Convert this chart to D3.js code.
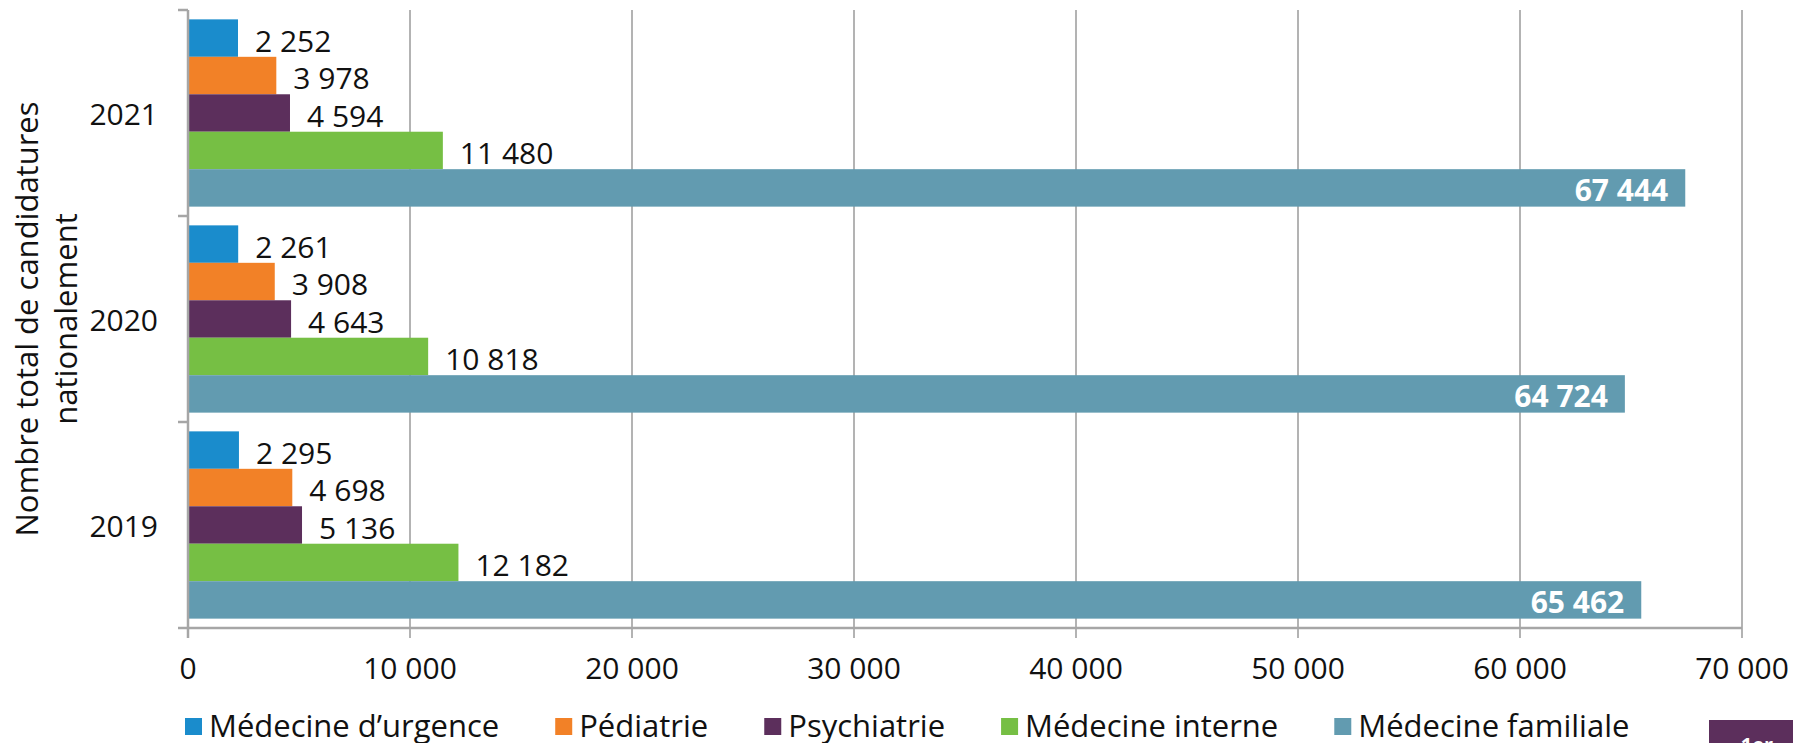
<!DOCTYPE html>
<html>
<head>
<meta charset="utf-8">
<script src="https://cdn.jsdelivr.net/npm/d3@7"></script>
<style>
  body { margin: 0; background: #fff; }
  text { font-family: "Open Sans", sans-serif; fill: #111; }
</style>
</head>
<body>
<div id="chart"></div>
<script>
// data
let years = ["2021", "2020", "2019"];
let seriesNames = ["Médecine d’urgence", "Pédiatrie", "Psychiatrie", "Médecine interne", "Médecine familiale"];
let urgence = [2252, 2261, 2295];
let pediatrie = [3978, 3908, 4698];
let psychiatrie = [4594, 4643, 5136];
let interne = [11480, 10818, 12182];
let familiale = [67444, 64724, 65462];
let xTicks = [0, 10000, 20000, 30000, 40000, 50000, 60000, 70000];
let yTitle = ["Nombre total de candidatures", "nationalement"];

let seriesValues = [urgence, pediatrie, psychiatrie, interne, familiale];
let seriesColors = ["#1a8ccc", "#f28127", "#5c2f5c", "#76bf44", "#629bb0"];

let width = 1793, height = 743;
let margin = {left: 188, top: 10, right: 51, bottom: 115};
let plotW = width - margin.left - margin.right;
let plotH = height - margin.top - margin.bottom;

let fr = d3.formatLocale({decimal: ",", thousands: " ", grouping: [3], currency: ["", " €"]});
let fmt = fr.format(",d");

var svg = d3.select("#chart").append("svg")
    .attr("width", width)
    .attr("height", height);

var g = svg.append("g")
    .attr("transform", "translate(" + margin.left + "," + margin.top + ")");

let x = d3.scaleLinear().domain([0, 70000]).range([0, plotW]);
let y0 = d3.scaleBand().domain(years).range([0, plotH]);
let y1 = d3.scaleBand().domain(seriesNames).range([0, y0.bandwidth()]).paddingOuter(0.25);

// vertical gridlines
g.append("g")
    .selectAll("line")
    .data(xTicks.slice(1))
    .enter().append("line")
    .attr("x1", d => x(d)).attr("x2", d => x(d))
    .attr("y1", 0).attr("y2", plotH + 10)
    .attr("stroke", "#9a9a9a")
    .attr("stroke-width", 1.5);

// bars
let rows = [];
years.forEach((yr, i) => {
    seriesNames.forEach((s, j) => {
        rows.push({year: yr, name: s, value: seriesValues[j][i], color: seriesColors[j], last: j == seriesNames.length - 1});
    });
});

var yearG = g.selectAll("g.year")
    .data(years)
    .enter().append("g")
    .attr("class", "year")
    .attr("transform", d => "translate(0," + y0(d) + ")");

yearG.selectAll("rect")
    .data(yr => rows.filter(r => r.year == yr))
    .enter().append("rect")
    .attr("x", 0)
    .attr("y", d => y1(d.name))
    .attr("width", d => x(d.value))
    .attr("height", y1.bandwidth())
    .attr("fill", d => d.color);

yearG.selectAll("text")
    .data(yr => rows.filter(r => r.year == yr))
    .enter().append("text")
    .attr("x", d => d.last ? x(d.value) - 17 : x(d.value) + 17)
    .attr("y", d => y1(d.name) + y1.bandwidth() / 2 + 2)
    .attr("dominant-baseline", "central")
    .attr("text-anchor", d => d.last ? "end" : "start")
    .style("font-size", "30px")
    .style("font-weight", d => d.last ? "bold" : "normal")
    .style("fill", d => d.last ? "#fff" : "#111")
    .text(d => fmt(d.value));

// axes
let axisColor = "#a6a6a6";
g.append("line")
    .attr("x1", 0).attr("x2", 0).attr("y1", 0).attr("y2", plotH + 10)
    .attr("stroke", axisColor).attr("stroke-width", 2.5);
g.append("line")
    .attr("x1", -10).attr("x2", plotW).attr("y1", plotH).attr("y2", plotH)
    .attr("stroke", axisColor).attr("stroke-width", 2.5);
g.append("g")
    .selectAll("line")
    .data(years.map(d => y0(d)))
    .enter().append("line")
    .attr("x1", -10).attr("x2", 0)
    .attr("y1", d => d).attr("y2", d => d)
    .attr("stroke", axisColor).attr("stroke-width", 2.5);

// x tick labels
g.append("g")
    .selectAll("text")
    .data(xTicks)
    .enter().append("text")
    .attr("x", d => x(d))
    .attr("y", plotH + 39)
    .attr("dominant-baseline", "central")
    .attr("text-anchor", "middle")
    .style("font-size", "30px")
    .text(d => fmt(d));

// year labels
g.append("g")
    .selectAll("text")
    .data(years)
    .enter().append("text")
    .attr("x", -30)
    .attr("y", d => y0(d) + y0.bandwidth() / 2)
    .attr("dominant-baseline", "central")
    .attr("text-anchor", "end")
    .style("font-size", "30px")
    .text(d => d);

// y axis title
svg.append("g")
    .attr("transform", "translate(26," + (margin.top + plotH / 2) + ") rotate(-90)")
    .selectAll("text")
    .data(yTitle)
    .enter().append("text")
    .attr("x", 0)
    .attr("y", (d, i) => i * 39)
    .attr("dominant-baseline", "central")
    .attr("text-anchor", "middle")
    .style("font-size", "31px")
    .text(d => d);

// legend
var legend = svg.append("g").attr("class", "legend");
let lx = 185;
seriesNames.forEach((s, j) => {
    legend.append("rect")
        .attr("x", lx).attr("y", 718)
        .attr("width", 17).attr("height", 17)
        .attr("fill", seriesColors[j]);
    let t = legend.append("text")
        .attr("x", lx + 24).attr("y", 737)
        .style("font-size", "31px")
        .text(s);
    lx = lx + 24 + t.node().getComputedTextLength() + 56;
});

// cropped page marker in the corner
svg.append("rect")
    .attr("x", 1709).attr("y", 720)
    .attr("width", 84).attr("height", 30)
    .attr("fill", "#5c2f5c");
svg.append("text")
    .attr("x", 1757).attr("y", 752)
    .attr("text-anchor", "middle")
    .style("font-size", "20px")
    .style("font-weight", "bold")
    .style("fill", "#fff")
    .text("1er");
</script>
</body>
</html>
